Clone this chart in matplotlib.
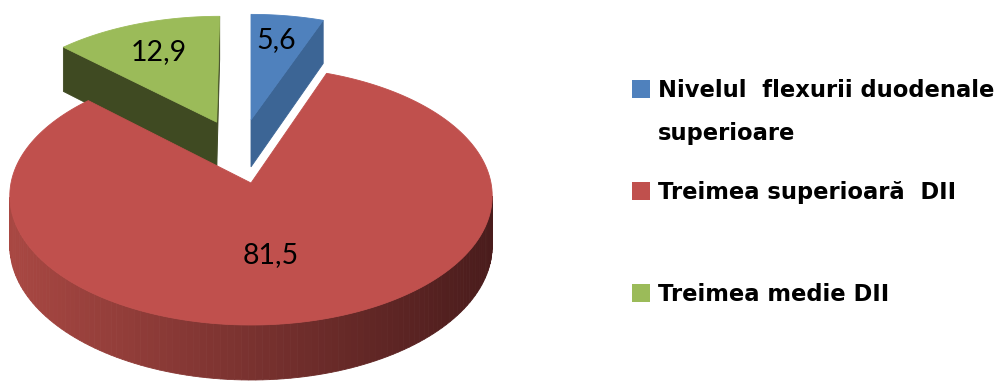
import numpy as np
import matplotlib
matplotlib.use("Agg")
import matplotlib.pyplot as plt
from matplotlib.patches import Polygon, Rectangle
from matplotlib.colors import to_rgb

# ---- data ----
categories = ["Nivelul  flexurii duodenale\nsuperioare", "Treimea superioară  DII", "Treimea medie DII"]
values = [5.6, 81.5, 12.9]
value_labels = ["5,6", "81,5", "12,9"]
top_colors = ["#4F81BD", "#C0504D", "#9BBB59"]
side_colors = ["#3C6595", "#7A302D", "#3F4A22"]
explode = [(0.0, -0.52), (0.0, 0.0), (-0.15, -0.5)]   # offsets in disk units (x, z)
label_r = [0.75, 0.54, 0.7]
label_dtheta = [-1.0, 5.0, 0.0]

# ---- projection (pixel space) ----
W, Hpx = 1003, 381
CX, CY = 251, 183
A, B, K, DEPTH = 240.0, 127.8, 0.1, 49.5

def proj(x, z, h):
    f = 1.0 / (1.0 - K * z)
    return CX + A * x * f, CY + (B * z - DEPTH * h) * f

def disk(theta_deg, r=1.0):
    t = np.radians(theta_deg)
    return r * np.sin(t), -r * np.cos(t)

def signed_area(pts):
    pts = np.asarray(pts)
    x, y = pts[:, 0], pts[:, 1]
    return 0.5 * np.sum(x * np.roll(y, -1) - np.roll(x, -1) * y)

fig = plt.figure(figsize=(W / 100, Hpx / 100), dpi=100)
ax = fig.add_axes([0, 0, 1, 1])
ax.set_xlim(0, W)
ax.set_ylim(Hpx, 0)
ax.axis("off")

total = sum(values)
bounds = np.concatenate([[0], np.cumsum(values)]) / total * 360.0

left_rgb = np.array([0.66, 0.28, 0.26])
right_rgb = np.array([0.29, 0.11, 0.11])

def draw_slice(i):
    ts, te = bounds[i], bounds[i + 1]
    ox, oz = explode[i]
    thetas = np.linspace(ts, te, max(8, int((te - ts) / 1.5)))
    arc = [disk(t) for t in thetas]
    arc = [(x + ox, z + oz) for x, z in arc]
    apex = (ox, oz)
    top = [proj(*apex, 0)] + [proj(x, z, 0) for x, z in arc]
    ref = np.sign(signed_area(top))
    faces = []
    for j in range(len(arc) - 1):
        (x0, z0), (x1, z1) = arc[j], arc[j + 1]
        q = [proj(x0, z0, 0), proj(x0, z0, -1), proj(x1, z1, -1), proj(x1, z1, 0)]
        if np.sign(signed_area(q)) == ref:
            faces.append(("wall", q))
    xs, zs = arc[0]
    qs = [proj(*apex, 0), proj(*apex, -1), proj(xs, zs, -1), proj(xs, zs, 0)]
    xe, ze = arc[-1]
    qe = [proj(*apex, 0), proj(xe, ze, 0), proj(xe, ze, -1), proj(*apex, -1)]
    for q in (qs, qe):
        if signed_area(q) * ref > 1.0:
            faces.append(("radial", q))
    for kind, q in faces:
        if kind == "wall" and i == 1:
            mx = np.mean([p[0] for p in q])
            t = np.clip((mx - (CX - A)) / (2 * A), 0, 1)
            c = left_rgb * (1 - t) + right_rgb * t
        elif kind == "wall":
            c = np.array(to_rgb(side_colors[i])) * 0.95
        else:
            c = side_colors[i]
        ax.add_patch(Polygon(q, closed=True, facecolor=c, edgecolor=c, lw=0.6))
    ax.add_patch(Polygon(top, closed=True, facecolor=top_colors[i],
                         edgecolor=top_colors[i], lw=0.6))
    mid = (ts + te) / 2 + label_dtheta[i]
    lx, lz = disk(mid, label_r[i])
    px, py = proj(lx + ox, lz + oz, 0)
    ax.text(px, py, value_labels[i], ha="center", va="center",
            fontsize=20.5, family="Lato", color="black")

for i in [0, 2, 1]:
    draw_slice(i)

# ---- legend ----
leg_x, sq = 632, 18
leg_y = [89, 191, 293]
line_gap = 43
for i, lab in enumerate(categories):
    ax.add_patch(Rectangle((leg_x, leg_y[i] - sq / 2), sq, sq,
                           facecolor=top_colors[i], edgecolor="none"))
    for k, line in enumerate(lab.split("\n")):
        ax.text(leg_x + 26, leg_y[i] + 8 + k * line_gap, line, ha="left",
                va="baseline", fontsize=16.3, family="DejaVu Sans", weight="bold",
                color="black")

fig.savefig("out.png", dpi=100)
